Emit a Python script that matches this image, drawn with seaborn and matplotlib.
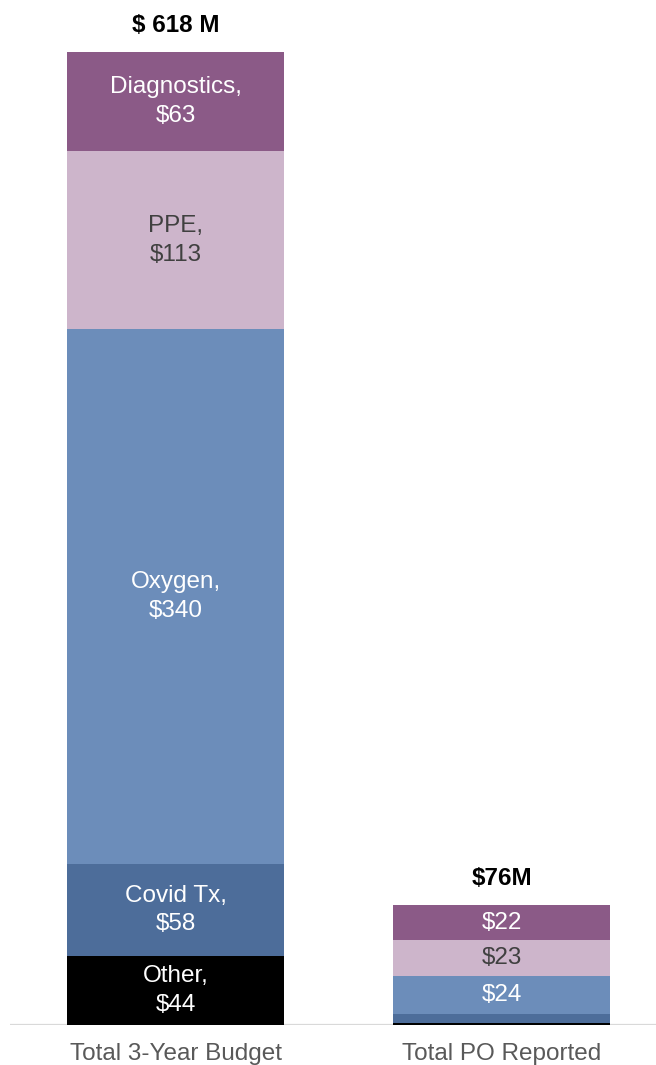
import numpy as np
import pandas as pd
import matplotlib
matplotlib.use("Agg")
import matplotlib.pyplot as plt
import seaborn as sns

# datos (millones de USD)
categorias = ["Total 3-Year Budget", "Total PO Reported"]
segmentos = ["Other", "Covid Tx", "Oxygen", "PPE", "Diagnostics"]
other = [44, 1.5]
covid_tx = [58, 5.5]
oxygen = [340, 24]
ppe = [113, 23]
diagnostics = [63, 22]
totales = ["$ 618 M", "$76M"]

colores = {
  "Other": "#000000",
  "Covid Tx": "#4d6d9a",
  "Oxygen": "#6c8dba",
  "PPE": "#cdb5cb",
  "Diagnostics": "#8b5a87",
}
color_texto = {
  "Other": "white",
  "Covid Tx": "white",
  "Oxygen": "white",
  "PPE": "#404040",
  "Diagnostics": "white",
}

sns.set_theme(style="white")
plt.rcParams["font.family"] = ["Liberation Sans", "DejaVu Sans"]

valores = pd.DataFrame(
  {"Other": other, "Covid Tx": covid_tx, "Oxygen": oxygen, "PPE": ppe, "Diagnostics": diagnostics},
  index=categorias,
)
acumulado = valores.cumsum(axis=1)
inferior = acumulado - valores

fig = plt.figure(figsize=(6.56, 10.65), dpi=100)
ax = fig.add_axes([10 / 656, 40 / 1065, 646 / 656, 1025 / 1065])

ax.axhline(0, color="#d9d9d9", lw=1.6, zorder=1)

# barras apiladas: de la mas alta a la mas baja, cada una tapa a la anterior
for seg in reversed(segmentos):
  df = pd.DataFrame({"cat": categorias, "valor": acumulado[seg].values})
  sns.barplot(data=df, x="cat", y="valor", color=colores[seg], width=0.666,
              saturation=1, linewidth=0, ax=ax, zorder=2)

# etiquetas dentro de los segmentos
for i, cat in enumerate(categorias):
  for seg in segmentos:
    v = valores.loc[cat, seg]
    centro = inferior.loc[cat, seg] + v / 2
    if i == 0:
      texto = f"{seg},\n${v:.0f}"
    else:
      if seg in ("Other", "Covid Tx"):
        continue
      texto = f"${v:.0f}"
    ax.text(i, centro, texto, ha="center", va="center", fontsize=17.5,
            color=color_texto[seg], linespacing=1.4, zorder=3)
  ax.annotate(totales[i], xy=(i, acumulado.loc[cat].iloc[-1]), xytext=(0, 19),
              textcoords="offset points", ha="center", va="center",
              fontsize=17.5, fontweight="bold", color="black")

ax.set_xlim(-0.508, 1.474)
ax.set_ylim(0, 651)
ax.set_xlabel("")
ax.set_ylabel("")
ax.set_yticks([])
ax.tick_params(axis="x", length=0, pad=13, labelsize=17.5, labelcolor="#595959")
sns.despine(ax=ax, left=True, bottom=True)

fig.savefig("out.png", dpi=100)
